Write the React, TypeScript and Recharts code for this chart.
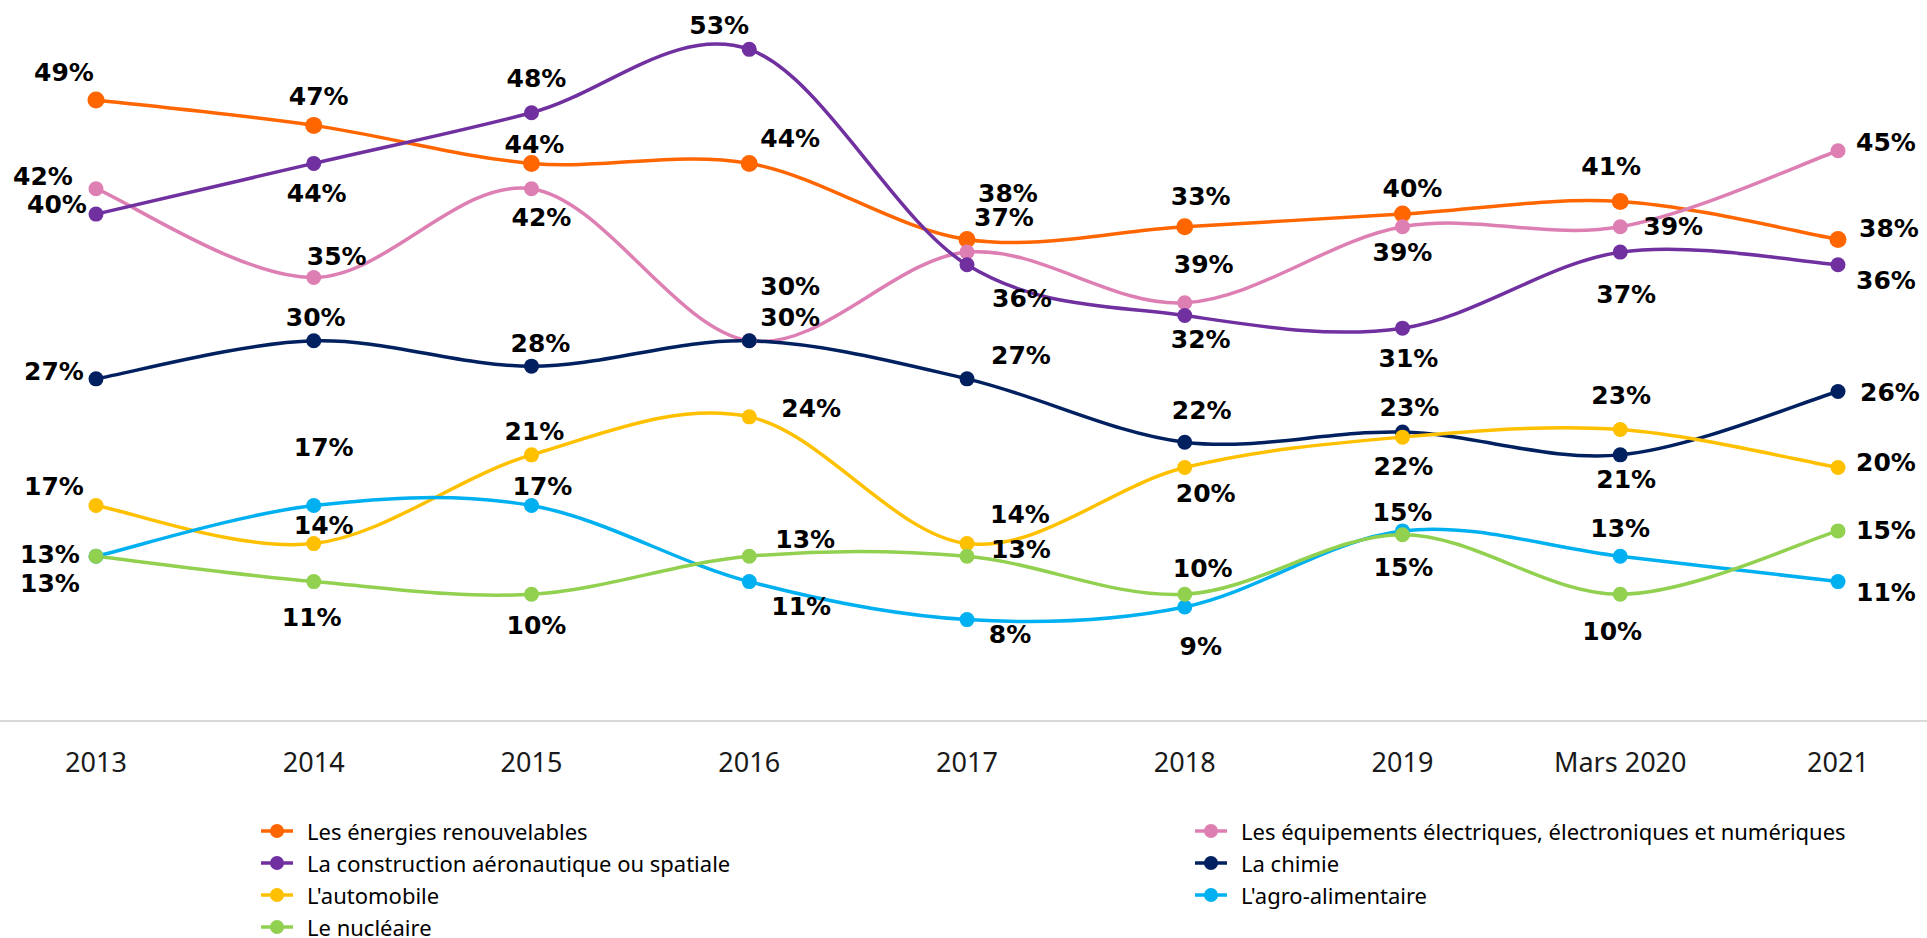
import { LineChart, Line, XAxis, YAxis, Legend, LabelList } from "recharts";

document.body.style.margin = "0";

// categories
const years = ["2013", "2014", "2015", "2016", "2017", "2018", "2019", "Mars 2020", "2021"];

// series values (%)
const energies = [49, 47, 44, 44, 38, 39, 40, 41, 38];
const equipements = [42, 35, 42, 30, 37, 33, 39, 39, 45];
const aeronautique = [40, 44, 48, 53, 36, 32, 31, 37, 36];
const chimie = [27, 30, 28, 30, 27, 22, 22.8, 21, 26];
const automobile = [17, 14, 21, 24, 14, 20, 22.4, 23, 20];
const agro = [13, 17, 17, 11, 8, 9, 15, 13, 11];
const nucleaire = [13, 11, 10, 13, 13, 10, 14.7, 10, 15];

// where each data label sits relative to its point (px)
const energiesLabelPos = [[-32, -28], [5, -29], [3, -19], [41, -25], [41, -46], [19, 38], [10, -26], [-9, -35], [51, -11]];
const equipementsLabelPos = [[-53, -12], [23, -21], [10, 29], [41, -54], [37, -35], [16, -106], [0, 26], [53, 0], [48, -8]];
const aeronautiqueLabelPos = [[-39, -10], [3, 30], [5, -34], [-30, -24], [55, 34], [16, 24], [6, 30], [6, 42], [48, 16]];
const chimieLabelPos = [[-42, -7], [2, -23], [9, -23], [41, -23], [54, -23], [17, -32], [7, -25], [6, 25], [52, 1]];
const automobileLabelPos = [[-42, -19], [10, -18], [3, -23], [62, -8], [53, -29], [21, 26], [1, 29], [1, -34], [48, -5]];
const agroLabelPos = [[-46, -2], [10, -58], [11, -19], [52, 25], [43, 15], [16, 40], [0, -18], [0, -28], [48, 11]];
const nucleaireLabelPos = [[-46, 27], [-2, 36], [5, 31], [56, -17], [54, -7], [18, -26], [1, 33], [-8, 37], [48, 0]];

const data = years.map((year, i) => ({
  year,
  energies: energies[i],
  equipements: equipements[i],
  aeronautique: aeronautique[i],
  chimie: chimie[i],
  automobile: automobile[i],
  agro: agro[i],
  nucleaire: nucleaire[i],
}));

const series = [
  { key: "energies", name: "Les énergies renouvelables", color: "#FF6600", r: 8.5, pos: energiesLabelPos },
  { key: "equipements", name: "Les équipements électriques, électroniques et numériques", color: "#DE7FB4", r: 7.5, pos: equipementsLabelPos },
  { key: "aeronautique", name: "La construction aéronautique ou spatiale", color: "#7030A0", r: 7.5, pos: aeronautiqueLabelPos },
  { key: "chimie", name: "La chimie", color: "#002060", r: 7.5, pos: chimieLabelPos },
  { key: "automobile", name: "L'automobile", color: "#FFC000", r: 7.5, pos: automobileLabelPos },
  { key: "agro", name: "L'agro-alimentaire", color: "#00B0F0", r: 7.5, pos: agroLabelPos },
  { key: "nucleaire", name: "Le nucléaire", color: "#92D050", r: 7.5, pos: nucleaireLabelPos },
];

// Excel-like smoothed line (Catmull-Rom as cubic beziers)
const excelSmooth: any = (context: any) => {
  let pts: number[][] = [];
  return {
    areaStart() {},
    areaEnd() {},
    lineStart() {
      pts = [];
    },
    point(x: number, y: number) {
      pts.push([+x, +y]);
    },
    lineEnd() {
      if (!pts.length) return;
      context.moveTo(pts[0][0], pts[0][1]);
      for (let i = 0; i < pts.length - 1; i++) {
        const p0 = pts[i - 1] || pts[i];
        const p1 = pts[i];
        const p2 = pts[i + 1];
        const p3 = pts[i + 2] || p2;
        context.bezierCurveTo(
          p1[0] + (p2[0] - p0[0]) / 6,
          p1[1] + (p2[1] - p0[1]) / 6,
          p2[0] - (p3[0] - p1[0]) / 6,
          p2[1] - (p3[1] - p1[1]) / 6,
          p2[0],
          p2[1]
        );
      }
    },
  };
};

const makeLabel = (pos: number[][]) => (props: any) => {
  const { x, y, value, index } = props;
  const [dx, dy] = pos[index] || [0, -20];
  return (
    <text
      key={index}
      x={x + dx}
      y={y + dy}
      textAnchor="middle"
      dominantBaseline="central"
      fontFamily="DejaVu Sans"
      fontWeight="bold"
      fontSize={25}
      fill="#000"
    >
      {Math.round(value)}%
    </text>
  );
};

// legend follows the series order (row by row, two columns)
const renderLegend = () => (
  <div
    style={{
      position: "absolute",
      left: 261,
      top: 815,
      display: "grid",
      gridTemplateColumns: "934px auto",
      fontFamily: "Noto Sans",
      fontSize: 22,
      color: "#000",
    }}
  >
    {series.map((s) => (
      <div key={s.key} style={{ display: "flex", alignItems: "center", height: 32 }}>
        <svg width={32} height={18} style={{ marginRight: 14 }}>
          <line x1={0} y1={9} x2={32} y2={9} stroke={s.color} strokeWidth={3.5} />
          <circle cx={16} cy={9} r={7} fill={s.color} />
        </svg>
        <span style={{ whiteSpace: "nowrap" }}>{s.name}</span>
      </div>
    ))}
  </div>
);

export default function App() {
  return (
    <div style={{ position: "relative", width: 1927, height: 938, background: "#fff" }}>
      <LineChart
        width={1927}
        height={938}
        data={data}
        margin={{ top: 24, right: 0, bottom: 137, left: 0 }}
      >
        <XAxis
          dataKey="year"
          height={80}
          padding={{ left: 96, right: 89 }}
          axisLine={{ stroke: "#D9D9D9", strokeWidth: 2 }}
          tickLine={false}
          tickSize={0}
          tickMargin={32}
          interval={0}
          tick={{ fontFamily: "Noto Sans", fontSize: 27, fill: "#1a1a1a" }}
        />
        <YAxis hide domain={[0, 55]} />
        <Legend
          content={renderLegend}
          wrapperStyle={{ position: "absolute", left: 0, top: 0, width: 1927, height: 0 }}
        />
        {series.map((s) => (
          <Line
            key={s.key}
            dataKey={s.key}
            name={s.name}
            type={excelSmooth}
            stroke={s.color}
            strokeWidth={3.5}
            dot={{ r: s.r, fill: s.color, stroke: s.color, strokeWidth: 0 }}
            activeDot={false}
            isAnimationActive={false}
          >
            <LabelList dataKey={s.key} content={makeLabel(s.pos)} />
          </Line>
        ))}
      </LineChart>
    </div>
  );
}
